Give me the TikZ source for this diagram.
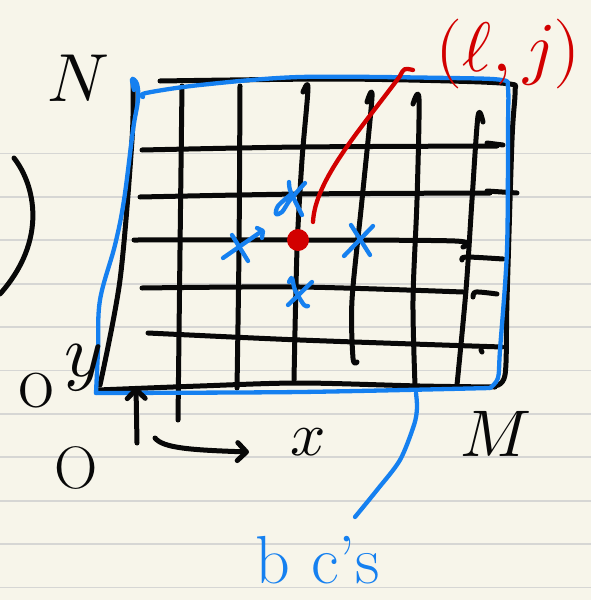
\documentclass[tikz,border=0pt]{standalone}
\usepackage{fontspec}
\usepackage{unicode-math}
\usetikzlibrary{arrows.meta}
\definecolor{paper}{HTML}{F7F5EA}
\definecolor{ruleline}{HTML}{D6D6D4}
\definecolor{pen}{HTML}{080808}
\definecolor{bluepen}{HTML}{1580F0}
\definecolor{redpen}{HTML}{D20000}
\begin{document}
\begin{tikzpicture}[x=1pt,y=-1pt,line cap=round,line join=round,
  ink/.style={draw=pen,line width=5pt},
  blueink/.style={draw=bluepen,line width=4.3pt},
  redink/.style={draw=redpen,line width=4.3pt},
  lbl/.style={inner sep=0pt,text=pen},
  barb/.style={-{Straight Barb[length=9pt,width=18pt,round]}}]
% paper
\fill[paper] (0,0) rectangle (591,600);
\useasboundingbox (0,0) rectangle (591,600);
\foreach \k in {0,...,10}
  \draw[ruleline,line width=1.8pt] (0,{153.5+43.4*\k}) -- (591,{153.5+43.4*\k});
% left arc
\draw[ink] (14,158) .. controls (35,185) and (48,240) .. (0,294);
% grid: horizontals
\draw[ink] plot[smooth] coordinates {(142,150) (300,147) (497,146)};
\draw[ink] (487,143) -- (503,145);
\draw[ink] plot[smooth] coordinates {(140,197) (300,194) (490,193)};
\draw[ink] (487,191) -- (517,193);
\draw[ink] plot[smooth] coordinates {(134,240) (300,240) (455,241) (463,247)};
\draw[ink] plot[smooth] coordinates {(462,260) (466,257) (503,259)};
\draw[ink] plot[smooth] coordinates {(142,288) (300,287) (463,292)};
\draw[ink] plot[smooth] coordinates {(473,297) (476,292) (497,294)};
\draw[ink] plot[smooth] coordinates {(148,333) (300,340) (502,347)};
\draw[ink] (481,350) -- (482,352);
% grid: verticals
\draw[ink] plot[smooth] coordinates {(182,86) (180,250) (178,420)};
\draw[ink] plot[smooth] coordinates {(240,86) (239,250) (237,388)};
\draw[ink] plot[smooth] coordinates {(303,92) (308,88) (302,160) (297,250) (294,380)};
\draw[ink] plot[smooth] coordinates {(367,102) (372,97) (362,200) (352,300) (353,358) (357,362)};
\draw[ink] plot[smooth] coordinates {(413,104) (419,99) (417,200) (413,300) (415,385)};
\draw[ink] plot[smooth] coordinates {(483,122) (478,116) (472,200) (466,290) (457,385)};
% black border
\draw[ink] plot[smooth] coordinates {(160,81) (330,79) (450,81) (510,84) (515,92) (512,140) (507,300) (505,375) (493,386)};
\draw[ink] plot[smooth] coordinates {(98,390) (200,386) (300,383) (420,386) (495,387)};
\draw[ink] plot[smooth] coordinates {(133,83) (132,140) (120,280) (100,385)};
% blue boundary
\draw[blueink] plot[smooth,tension=0.5] coordinates {(143,97) (146,93) (200,85) (300,77) (450,78) (502,80) (508,88) (508,130) (507,250) (500,350) (498,378) (490,388)};
\draw[blueink] plot[smooth] coordinates {(490,388) (300,392) (96,393)};
\draw[blueink] plot[smooth,tension=0.6] coordinates {(96,393) (98,350) (100,300) (115,245) (124,200) (133,130) (138,100) (137,84) (132,79) (134,90)};
% axes
\coordinate (ytail) at (137,443);
\coordinate (yhead) at (136,387);
\draw[ink,barb] (ytail) -- (yhead);
\coordinate (xtail) at (155,438);
\coordinate (xhead) at (249,452);
\draw[ink,barb] (xtail) .. controls (163,448) and (190,450) .. (xhead);
% blue crosses
\draw[blueink] (223,258) -- (262,231);
\draw[blueink] (257,228) -- (263,231) -- (262,238);
\draw[blueink] (232,235) -- (248,261);
\draw[blueink] plot[smooth] coordinates {(305,183) (290,200) (282,212) (276,214) (278,206) (290,195)};
\draw[blueink] plot[smooth] coordinates {(289,182) (290,190) (296,203) (302,215)};
\draw[blueink] (344,256) -- (373,226);
\draw[blueink] (351,225) -- (370,255);
\draw[blueink] plot[smooth] coordinates {(289,282) (292,278) (295,290) (304,305) (308,306)};
\draw[blueink] (288,305) -- (312,282);
% red point and label
\node[circle,fill=redpen,inner sep=0pt,minimum size=22pt] (dot) at (298,240) {};
\coordinate (redstart) at (313,222);
\coordinate (redend) at (413,70);
\draw[redink] (redstart) .. controls (315,180) and (360,130) .. (400,76) .. controls (404,68) .. (redend);
\node[lbl,text=redpen,font=\fontsize{70}{70}\selectfont] (lj) at (508,54) {$(\ell,j)$};
% black labels
\node[lbl,font=\fontsize{68}{68}\selectfont] (N) at (78,78) {$N$};
\node[lbl,font=\fontsize{74}{74}\selectfont] (ylab) at (84,368) {$y$};
\node[lbl,font=\fontsize{78}{78}\selectfont] (o) at (36,391) {o};
\node[lbl,font=\fontsize{60}{60}\selectfont] (O) at (76,468) {O};
\node[lbl,font=\fontsize{62}{62}\selectfont] (xlab) at (308,442) {$x$};
\node[lbl,font=\fontsize{66}{66}\selectfont] (M) at (496,434) {$M$};
% boundary conditions label
\coordinate (bcstart) at (416,393);
\node[lbl,text=bluepen,font=\fontsize{68}{68}\selectfont] (bc) at (318,560) {b c's};
\draw[blueink] plot[smooth] coordinates {(bcstart) (417,408) (414,425) (400,460) (377,490) (355,517)};
\end{tikzpicture}
\end{document}
